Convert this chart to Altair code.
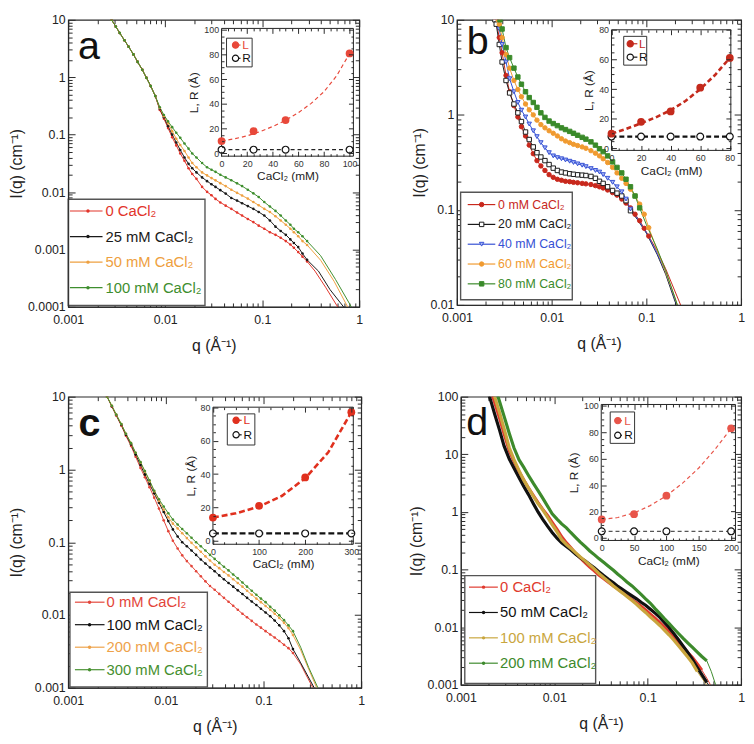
import math
import altair as alt
import pandas as pd

FONT = "Liberation Sans"

# ------------------------------------------------------------------ data
# panel a  (q in 1/A, I in 1/cm)
A_Q_LO = [0.0028, 0.0031, 0.0034, 0.0038, 0.0042, 0.0047, 0.0052, 0.0058, 0.0064, 0.0071, 0.0079]
A_I_LO = [10, 7.6, 5.9, 4.4, 3.4, 2.5, 1.85, 1.35, 0.98, 0.7, 0.47]
A_Q = [0.0088, 0.0097, 0.0107, 0.0118, 0.013, 0.0143, 0.0158, 0.0174, 0.019, 0.021, 0.024, 0.027,
       0.030, 0.033, 0.037, 0.042, 0.048, 0.055, 0.062, 0.071, 0.081, 0.092, 0.105, 0.12, 0.137,
       0.155, 0.175, 0.195, 0.212, 0.235, 0.26, 0.29]
A_I_0 = [0.27, 0.19, 0.13, 0.09, 0.065, 0.047, 0.035, 0.026, 0.0206, 0.017, 0.0123, 0.0101, 0.0088,
         0.0076, 0.0066, 0.0058, 0.0051, 0.0044, 0.0039, 0.0034, 0.003, 0.0026, 0.0023, 0.002, 0.0018,
         0.0016, 0.0014, 0.00122, 0.00107, 0.0009, 0.00075, 0.00062]
A_I_25 = [0.28, 0.2, 0.14, 0.1, 0.073, 0.054, 0.04, 0.031, 0.026, 0.022, 0.018, 0.0155, 0.0137,
          0.0123, 0.0108, 0.0094, 0.0079, 0.0071, 0.0064, 0.0057, 0.0051, 0.0045, 0.0039, 0.0032,
          0.0025, 0.0021, 0.0018, 0.0015, 0.0013, 0.0011, 0.00085, 0.00066]
A_I_50 = [0.29, 0.21, 0.16, 0.115, 0.085, 0.066, 0.052, 0.04, 0.032, 0.027, 0.022, 0.0195, 0.0175,
          0.016, 0.0143, 0.0127, 0.011, 0.0097, 0.0087, 0.0077, 0.0067, 0.0059, 0.0051, 0.0045,
          0.0038, 0.0032, 0.0027, 0.0023, 0.002, 0.0017, 0.0014, 0.0012]
A_I_100 = [0.3, 0.22, 0.17, 0.135, 0.108, 0.088, 0.07, 0.057, 0.047, 0.04, 0.032, 0.027, 0.0245,
           0.0225, 0.02, 0.018, 0.0161, 0.0142, 0.0127, 0.011, 0.0095, 0.0082, 0.0067, 0.0056,
           0.0047, 0.0039, 0.0032, 0.0027, 0.0023, 0.002, 0.0017, 0.0014]
A_TQ = {"0": [0.35, 0.45, 0.6], "25": [0.38, 0.5, 0.69], "50": [0.4, 0.55, 0.76], "100": [0.4, 0.57, 0.83]}
A_TI = {"0": [0.00042, 0.00022, 0.0001], "25": [0.00042, 0.0002, 0.0001],
        "50": [0.00065, 0.00028, 0.0001], "100": [0.00078, 0.0003, 0.0001]}
A_CONC = [0, 25, 50, 100]
A_L = [10, 18, 27, 81]
A_R = [3, 3, 3, 3]
A_FIT_C = [0, 10, 20, 30, 40, 50, 60, 70, 80, 90, 100]
A_FIT_L = [10, 11.8, 14.2, 17.6, 21.8, 26.8, 33, 40.5, 50, 63, 81]

# panel b
B_Q = [0.0026, 0.0028, 0.003, 0.0033, 0.0036, 0.004, 0.0044, 0.0048, 0.0053, 0.0058,
       0.0064, 0.007, 0.0077, 0.0085, 0.0094, 0.0104, 0.0115, 0.0127, 0.014, 0.0155,
       0.017, 0.0188, 0.021, 0.023, 0.026, 0.029, 0.032, 0.035, 0.039, 0.044,
       0.049, 0.055, 0.061, 0.068, 0.076, 0.085, 0.095, 0.106]
B_TOP_Q = {"0": 0.00258, "20": 0.00252, "40": 0.00265, "60": 0.00272, "80": 0.00285}
B_START = {"0": 1, "20": 0, "40": 1, "60": 1, "80": 2}
B_I_0 = [6.5, 4.5, 2.6, 1.75, 1.25, 0.95, 0.75, 0.6, 0.48, 0.39, 0.33, 0.29, 0.26, 0.235, 0.22,
         0.21, 0.205, 0.2, 0.198, 0.195, 0.193, 0.19, 0.188, 0.185, 0.18, 0.175, 0.17, 0.162, 0.152,
         0.143, 0.13, 0.118, 0.105, 0.09, 0.077, 0.064, 0.053]
B_I_20 = [9, 5.5, 3.6, 2.3, 1.7, 1.3, 1.05, 0.85, 0.66, 0.55, 0.46, 0.4, 0.36, 0.33, 0.3, 0.275,
          0.26, 0.25, 0.245, 0.24, 0.237, 0.234, 0.232, 0.23, 0.225, 0.215, 0.2, 0.19, 0.175, 0.16,
          0.15, 0.14, 0.125, 0.098]
B_I_40 = [8, 5.5, 3.6, 2.4, 1.75, 1.35, 1.12, 0.95, 0.8, 0.68, 0.59, 0.51, 0.45, 0.4, 0.37,
          0.355, 0.345, 0.335, 0.325, 0.315, 0.305, 0.295, 0.285, 0.272, 0.26, 0.25, 0.235, 0.215,
          0.195, 0.175, 0.155, 0.13, 0.102]
B_I_60 = [9, 6.5, 4.3, 3.1, 2.3, 1.85, 1.55, 1.3, 1.13, 1.0, 0.88, 0.79, 0.73, 0.68, 0.64, 0.6,
          0.56, 0.53, 0.51, 0.49, 0.475, 0.46, 0.445, 0.42, 0.395, 0.37, 0.345, 0.315, 0.28, 0.245,
          0.215, 0.19, 0.165, 0.14, 0.115, 0.09, 0.065]
B_I_80 = [8, 5.1, 4.0, 3.1, 2.5, 2.1, 1.75, 1.52, 1.35, 1.2, 1.05, 0.94, 0.86, 0.81, 0.77,
          0.73, 0.7, 0.67, 0.64, 0.61, 0.58, 0.555, 0.52, 0.48, 0.44, 0.41, 0.37, 0.32, 0.28, 0.245,
          0.21, 0.175, 0.14, 0.105]
B_TQ = {"0": [0.13, 0.16, 0.2, 0.235], "20": [0.08, 0.1, 0.13, 0.16, 0.2, 0.215],
        "40": [0.08, 0.1, 0.13, 0.16, 0.2, 0.22], "60": [0.13, 0.16, 0.2, 0.22],
        "80": [0.1, 0.13, 0.16, 0.2, 0.22]}
B_TI = {"0": [0.037, 0.024, 0.014, 0.0095], "20": [0.08, 0.057, 0.034, 0.021, 0.011, 0.0093],
        "40": [0.082, 0.058, 0.035, 0.022, 0.0115, 0.0088], "60": [0.038, 0.022, 0.012, 0.009],
        "80": [0.07, 0.039, 0.023, 0.012, 0.009]}
B_CONC = [0, 20, 40, 60, 80]
B_L = [10, 18, 25, 41, 61]
B_R = [8, 8, 8, 8, 8]
B_FIT_C = [0, 10, 20, 30, 40, 50, 60, 70, 80]
B_FIT_L = [10, 13.2, 17, 21, 25.8, 32, 40, 49.5, 61]

# panel c
C_Q = [0.0025, 0.0028, 0.0031, 0.0035, 0.0039, 0.0044, 0.0049, 0.0055, 0.0061, 0.0068,
       0.0076, 0.0085, 0.0095, 0.0106, 0.0118, 0.0132, 0.0147, 0.0164, 0.0183, 0.0204,
       0.0228, 0.0254, 0.0283, 0.0316, 0.0352, 0.0393, 0.0438, 0.0489, 0.0545, 0.0608,
       0.0678, 0.0757, 0.0844, 0.094, 0.105, 0.117, 0.13, 0.145, 0.162, 0.18, 0.2]
C_I_0 = [10, 7.3, 5.5, 4.0, 2.9, 2.1, 1.5, 1.05, 0.78, 0.57, 0.41, 0.29, 0.2, 0.142, 0.105, 0.082,
         0.066, 0.055, 0.047, 0.04, 0.034, 0.029, 0.025, 0.0222, 0.0195, 0.0172, 0.0152, 0.0134,
         0.0118, 0.0104, 0.0093, 0.0083, 0.0074, 0.0067, 0.006, 0.0054, 0.0049, 0.0044, 0.0039,
         0.0035, 0.003]
C_I_100 = [10, 7.4, 5.6, 4.1, 3.0, 2.2, 1.6, 1.15, 0.85, 0.63, 0.47, 0.35, 0.26, 0.195, 0.15, 0.12,
           0.1, 0.088, 0.077, 0.067, 0.058, 0.051, 0.045, 0.04, 0.035, 0.031, 0.0275, 0.0245,
           0.0218, 0.0194, 0.0172, 0.0153, 0.0137, 0.0122, 0.0108, 0.0096, 0.0084, 0.0072, 0.006,
           0.0048, 0.0034]
C_I_200 = [10, 7.5, 5.7, 4.2, 3.1, 2.3, 1.7, 1.25, 0.93, 0.69, 0.5, 0.37, 0.28, 0.22, 0.18, 0.155,
           0.133, 0.114, 0.098, 0.085, 0.074, 0.064, 0.056, 0.049, 0.044, 0.039, 0.035, 0.031,
           0.0275, 0.0245, 0.0215, 0.019, 0.0168, 0.015, 0.0133, 0.0118, 0.0104, 0.0091, 0.0078,
           0.0066, 0.0053]
C_I_300 = [10, 7.5, 5.7, 4.2, 3.1, 2.3, 1.7, 1.26, 0.95, 0.71, 0.51, 0.39, 0.31, 0.25, 0.205, 0.175,
           0.152, 0.133, 0.115, 0.1, 0.088, 0.077, 0.067, 0.059, 0.052, 0.046, 0.041, 0.036, 0.032,
           0.028, 0.0245, 0.0215, 0.019, 0.0168, 0.015, 0.013, 0.0115, 0.0099, 0.0085, 0.0072, 0.006]
C_TQ = {"0": [0.24, 0.28, 0.32], "100": [0.24, 0.28, 0.33], "200": [0.24, 0.29, 0.35], "300": [0.24, 0.29, 0.36]}
C_TI = {"0": [0.0021, 0.0014, 0.001], "100": [0.0022, 0.0015, 0.001],
        "200": [0.0033, 0.0018, 0.001], "300": [0.0036, 0.0019, 0.001]}
C_CONC = [0, 100, 200, 300]
C_L = [14, 21, 38, 77]
C_R = [4.5, 4.5, 4.5, 4.5]
C_FIT_C = [0, 50, 100, 150, 200, 250, 300]
C_FIT_L = [14, 16.5, 20.5, 27, 37.5, 53, 77]

# panel d
D_Q = [0.0019, 0.0021, 0.0023, 0.0026, 0.0029, 0.0033, 0.0037, 0.0042, 0.0047, 0.0053,
       0.006, 0.0067, 0.0075, 0.0085, 0.0095, 0.0107, 0.012, 0.0135, 0.015, 0.017,
       0.019, 0.0215, 0.024, 0.027, 0.03, 0.034, 0.038, 0.043, 0.048, 0.054,
       0.06, 0.068, 0.076, 0.085, 0.095, 0.107, 0.12, 0.135, 0.15, 0.17,
       0.19, 0.215, 0.24, 0.27, 0.3, 0.34, 0.38, 0.43]
D_I_0 = [220, 125, 80, 42, 23, 11.5, 7.6, 5.0, 3.6, 2.6, 1.9, 1.45, 1.12, 0.86, 0.66, 0.5, 0.37,
         0.29, 0.24, 0.19, 0.16, 0.13, 0.11, 0.094, 0.08, 0.069, 0.06, 0.052, 0.046, 0.04, 0.035,
         0.03, 0.0265, 0.023, 0.0198, 0.0168, 0.0143, 0.012, 0.0101, 0.0083, 0.0069, 0.0055,
         0.0045, 0.0036, 0.003, 0.0023, 0.0018]
D_I_50 = [140, 83, 50, 26, 14, 8.3, 5.8, 3.9, 2.8, 2.0, 1.38, 1.0, 0.75, 0.56, 0.44, 0.35, 0.29,
          0.25, 0.22, 0.185, 0.16, 0.14, 0.122, 0.106, 0.092, 0.078, 0.068, 0.059, 0.051, 0.045,
          0.04, 0.035, 0.031, 0.027, 0.024, 0.0205, 0.0175, 0.0148, 0.0122, 0.0098, 0.0078, 0.006,
          0.0047, 0.0036, 0.0028, 0.002, 0.0015, 0.0011]
D_I_100 = [400, 200, 100, 52, 28, 13, 8.2, 5.2, 3.6, 2.6, 1.85, 1.4, 1.1, 0.8, 0.6, 0.45, 0.33,
           0.27, 0.235, 0.195, 0.165, 0.14, 0.12, 0.102, 0.086, 0.072, 0.062, 0.052, 0.045, 0.039,
           0.034, 0.029, 0.025, 0.021, 0.018, 0.015, 0.0127, 0.0107, 0.009, 0.0073, 0.006, 0.0047,
           0.0038, 0.003, 0.0024, 0.0017]
D_I_200 = [400, 250, 155, 82, 46, 23, 13, 8.0, 6.0, 4.3, 3.1, 2.35, 1.75, 1.25, 0.93, 0.75, 0.62,
           0.53, 0.44, 0.36, 0.3, 0.25, 0.21, 0.18, 0.155, 0.132, 0.114, 0.097, 0.083, 0.071, 0.061,
           0.052, 0.044, 0.037, 0.031, 0.026, 0.021, 0.0172, 0.0142, 0.0115, 0.0095, 0.0077,
           0.0064, 0.0053, 0.0045, 0.0037, 0.0031, 0.0026]
D_TQ = {"0": [0.43, 0.47], "50": [0.47], "100": [0.38, 0.44], "200": [0.48, 0.54]}
D_TI = {"0": [0.0013, 0.001], "50": [0.0009], "100": [0.0013, 0.00095], "200": [0.0017, 0.00095]}
D_CONC = [0, 50, 100, 200]
D_L = [14, 18, 32, 83]
D_R = [5, 5, 5, 5]
D_FIT_C = [0, 25, 50, 75, 100, 125, 150, 175, 200]
D_FIT_L = [14, 15.5, 19, 24.5, 32, 41.5, 53, 67, 83]

# ------------------------------------------------------------------ helpers
MAJOR = "abs(log(datum.value)/LN10 - round(log(datum.value)/LN10)) < 0.001"
ONE = pd.DataFrame({"k": [0]})
INK = "#2a2a2a"


def log_ticks(lo, hi, minor=True):
    out = []
    e = int(math.floor(math.log10(lo) + 1e-9))
    while 10.0 ** e <= hi * 1.0001:
        for k in (range(1, 10) if minor else [1]):
            v = float("%.6g" % (k * 10.0 ** e))
            if lo * 0.9999 <= v <= hi * 1.0001:
                out.append(v)
        e += 1
    return out


def label_axis(dom, title, orient, min_ext=0):
    return alt.Axis(
        orient=orient, values=log_ticks(dom[0], dom[1], minor=False), format="~g",
        ticks=False, labelOverlap=False, labelFlush=False, grid=False, zindex=1,
        domainColor=INK, labelColor="#222", titleColor="#222",
        labelFont=FONT, labelFontSize=12.5, labelPadding=7 if orient == "bottom" else 3,
        minExtent=min_ext,
        title=title, titleFont=FONT, titleFontSize=16, titleFontWeight="normal",
        titlePadding=12 if orient == "bottom" else 3)


def tick_axis(values, orient, offset, test, big, small, z):
    return alt.Axis(orient=orient, offset=offset, values=values, labels=False, domain=False,
                    title=None, grid=False, zindex=z, tickColor=INK, tickWidth=1,
                    tickSize={"condition": {"test": test, "value": big}, "value": small})


def build_df(series):
    rows = []
    for key, qs, Is in series:
        for q, v in zip(qs, Is):
            rows.append({"s": key, "q": q, "I": v})
    return pd.DataFrame(rows)


def panel(cfg):
    W, H = cfg["W"], cfg["H"]
    keys, cols = cfg["labels"], cfg["colors"]
    xdom, ydom = cfg["xdom"], cfg["ydom"]
    XS = alt.Scale(type="log", domain=xdom, nice=False)
    YS = alt.Scale(type="log", domain=ydom, nice=False)
    X = alt.X("q:Q", scale=XS, axis=label_axis(xdom, "q  (Å⁻¹)", "bottom"))
    Y = alt.Y("I:Q", scale=YS, axis=label_axis(ydom, "I(q)  (cm⁻¹)", "left", cfg.get("ymin_ext", 0)))
    cs = alt.Scale(domain=keys, range=cols)
    C = alt.Color("s:N", scale=cs, legend=None)

    pts_df = build_df(cfg["data"])
    fit_df = build_df(cfg["fits"])
    fits = alt.Chart(fit_df).mark_line(strokeWidth=1, clip=True).encode(X, Y, C)
    style = cfg["style"]
    if style == "dots":
        pts = alt.Chart(pts_df).mark_circle(size=7, opacity=1, clip=True).encode(X, Y, C)
    elif style == "thick":
        pts = alt.Chart(pts_df).mark_line(strokeWidth=3.2, clip=True).encode(X, Y, C)
    else:
        pts = alt.Chart(pts_df).mark_point(filled=True, size=20, strokeWidth=1, opacity=1, clip=True).encode(
            X, Y,
            shape=alt.Shape("s:N", scale=alt.Scale(domain=keys, range=cfg["shapes"]), legend=None),
            fill=alt.Fill("s:N", scale=alt.Scale(domain=keys, range=cfg["fills"]), legend=None),
            stroke=alt.Stroke("s:N", scale=cs, legend=None))
    main = alt.layer(fits, pts)

    # inward ticks on all four sides of the main frame
    inside = "datum.I >= %g && datum.I <= %g" % (ydom[0], ydom[1])
    xv, yv = log_ticks(*xdom), log_ticks(*ydom)
    carrier = alt.Chart(pts_df).transform_filter(inside).mark_point(opacity=0)
    mt1 = carrier.encode(
        x=alt.X("q:Q", scale=XS, axis=tick_axis(xv, "top", -H, MAJOR, 7, 4, 0)),
        y=alt.Y("I:Q", scale=YS, axis=tick_axis(yv, "right", -W, MAJOR, 7, 4, 0)))
    mt2 = carrier.encode(
        x=alt.X("q:Q", scale=XS, axis=tick_axis(xv, "bottom", -H, MAJOR, 7, 4, 0)),
        y=alt.Y("I:Q", scale=YS, axis=tick_axis(yv, "left", -W, MAJOR, 7, 4, 0)))

    # ---- main legend
    lg = cfg["leg"]
    n = len(keys)
    ldf = pd.DataFrame({"row": list(range(n)), "s": keys, "label": keys})
    LY = alt.Y("row:Q", scale=alt.Scale(domain=[0, n - 1], range=[lg["rows"][0] * H, lg["rows"][1] * H],
                                        nice=False, zero=False), axis=None)
    legbox = alt.Chart(ONE).mark_rect(fill="white", stroke="#555", strokeWidth=1.4).encode(
        x=alt.value(lg["box"][0] * W), x2=alt.value(lg["box"][1] * W),
        y=alt.value(lg["box"][2] * H), y2=alt.value(lg["box"][3] * H))
    lrule = alt.Chart(ldf).mark_rule(strokeWidth=1.2).encode(
        x=alt.value(lg["line"][0] * W), x2=alt.value(lg["line"][1] * W), y=LY, color=C)
    if style == "markers":
        lmark = alt.Chart(ldf).mark_point(filled=True, size=20, strokeWidth=1, opacity=1).encode(
            x=alt.value(lg["mark"] * W), y=LY,
            shape=alt.Shape("s:N", scale=alt.Scale(domain=keys, range=cfg["shapes"]), legend=None),
            fill=alt.Fill("s:N", scale=alt.Scale(domain=keys, range=cfg["fills"]), legend=None),
            stroke=alt.Stroke("s:N", scale=cs, legend=None))
    else:
        lmark = alt.Chart(ldf).mark_circle(size=12, opacity=1).encode(x=alt.value(lg["mark"] * W), y=LY, color=C)
    ltext = alt.Chart(ldf).mark_text(align="left", baseline="middle", font=FONT, fontSize=lg["fs"]).encode(
        x=alt.value(lg["text"] * W), y=LY, text="label:N", color=C)
    legend = alt.layer(lrule, lmark, ltext)

    # ---- inset
    ins = cfg["inset"]
    px0, px1 = ins["frame"][0] * W, ins["frame"][1] * W
    py0, py1 = ins["frame"][2] * H, ins["frame"][3] * H
    IXS = alt.Scale(domain=ins["xdom"], range=[px0, px1], nice=False, zero=False)
    IYS = alt.Scale(domain=ins["ydom"], range=[py1, py0], nice=False, zero=False)
    common = dict(format="d", grid=False, zindex=1, domain=False, ticks=False, labelFlush=False,
                  labelOverlap=False, labelFont=FONT, labelFontSize=9, labelColor="#333", labelPadding=3,
                  titleFont=FONT, titleFontSize=12, titleFontWeight="normal", titleColor="#222", titlePadding=3)
    ixa = alt.Axis(orient="bottom", offset=py1 - H, values=ins["xt"], title="CaCl₂ (mM)", **common)
    iya = alt.Axis(orient="left", offset=-px0, values=ins["yt"], title="L, R (Å)", **common)
    IX = alt.X("c:Q", scale=IXS, axis=ixa)
    IY = alt.Y("v:Q", scale=IYS, axis=iya)
    iframe = alt.Chart(ONE).mark_rect(fill="white", stroke="#222", strokeWidth=1).encode(
        x=alt.value(px0), x2=alt.value(px1), y=alt.value(py0), y2=alt.value(py1))
    lc = ins["lcolor"]
    Ldf = pd.DataFrame({"c": ins["conc"], "v": ins["L"]})
    Rdf = pd.DataFrame({"c": ins["conc"], "v": ins["R"]})
    Lfit = pd.DataFrame({"c": ins["fit_c"], "v": ins["fit_L"]})
    Rfit = pd.DataFrame({"c": [ins["conc"][0], ins["conc"][-1]], "v": [ins["R"][0], ins["R"][-1]]})
    inset = alt.layer(
        alt.Chart(Rfit).mark_line(color=ins["rcolor"], strokeDash=ins["dash"], strokeWidth=ins["rw"]).encode(IX, IY),
        alt.Chart(Lfit).mark_line(color=lc, strokeDash=ins["dash"], strokeWidth=ins["lw"]).encode(IX, IY),
        alt.Chart(Rdf).mark_point(shape="circle", filled=True, fill="white", stroke="#111", strokeWidth=1.2,
                                  size=48, opacity=1).encode(IX, IY),
        alt.Chart(Ldf).mark_circle(color=lc, size=62, opacity=1).encode(IX, IY),
    )
    xmaj, xmin_ = ins["xstep"]
    ymaj, ymin_ = ins["ystep"]
    ixv = [float("%.6g" % (ins["xt"][0] + i * xmin_)) for i in range(int(round((ins["xt"][-1] - ins["xt"][0]) / xmin_)) + 1)]
    iyv = [float("%.6g" % (ins["yt"][0] + i * ymin_)) for i in range(int(round((ins["yt"][-1] - ins["yt"][0]) / ymin_)) + 1)]
    tx = "abs(datum.value/%g - round(datum.value/%g)) < 0.001" % (xmaj, xmaj)
    ty = "abs(datum.value/%g - round(datum.value/%g)) < 0.001" % (ymaj, ymaj)
    icar = alt.Chart(Ldf).mark_point(opacity=0)
    it1 = icar.encode(
        x=alt.X("c:Q", scale=IXS, axis=tick_axis(ixv, "top", -py1, tx, 5, 2.5, 1)),
        y=alt.Y("v:Q", scale=IYS, axis=tick_axis(iyv, "right", px0 - W, ty, 5, 2.5, 1)))
    it2 = icar.encode(
        x=alt.X("c:Q", scale=IXS, axis=tick_axis(ixv, "bottom", py0 - H, tx, 5, 2.5, 1)),
        y=alt.Y("v:Q", scale=IYS, axis=tick_axis(iyv, "left", -px1, ty, 5, 2.5, 1)))

    # ---- inset legend
    il = ins["leg"]
    idf = pd.DataFrame({"row": [0, 1], "s": ["L", "R"]})
    IYL = alt.Y("row:Q", scale=alt.Scale(domain=[0, 1], range=[il["rows"][0] * H, il["rows"][1] * H],
                                         nice=False, zero=False), axis=None)
    icol = alt.Scale(domain=["L", "R"], range=[lc, "#111"])
    ifill = alt.Scale(domain=["L", "R"], range=[lc, "white"])
    ibox = alt.Chart(ONE).mark_rect(fill="white", stroke="#333", strokeWidth=1).encode(
        x=alt.value(il["box"][0] * W), x2=alt.value(il["box"][1] * W),
        y=alt.value(il["box"][2] * H), y2=alt.value(il["box"][3] * H))
    ileg = alt.layer(
        alt.Chart(idf).mark_rule(strokeWidth=1.2).encode(
            x=alt.value(il["mark"] * W), x2=alt.value(il["line"] * W), y=IYL,
            color=alt.Color("s:N", scale=icol, legend=None)),
        alt.Chart(idf).mark_point(shape="circle", filled=True, size=40, strokeWidth=1.2, opacity=1).encode(
            x=alt.value(il["mark"] * W), y=IYL,
            fill=alt.Fill("s:N", scale=ifill, legend=None),
            stroke=alt.Stroke("s:N", scale=icol, legend=None)),
        alt.Chart(idf).mark_text(align="left", baseline="middle", font=FONT, fontSize=12).encode(
            x=alt.value(il["text"] * W), y=IYL, text="s:N", color=alt.Color("s:N", scale=icol, legend=None)),
    )

    letter = alt.Chart(ONE).mark_text(text=cfg["letter"], font=FONT, fontSize=40, align="center",
                                      baseline="middle", color="#111",
                                      fontWeight=cfg.get("lw", "normal")).encode(
        x=alt.value(cfg["lpos"][0] * W), y=alt.value(cfg["lpos"][1] * H))

    return alt.layer(main, mt1, mt2, legbox, legend, iframe, inset, it1, it2, ibox, ileg, letter).resolve_scale(
        x="independent", y="independent", color="independent", fill="independent",
        stroke="independent", shape="independent").properties(width=W, height=H)


# ------------------------------------------------------------------ panels
A_LAB = ["0 CaCl₂", "25 mM CaCl₂", "50 mM CaCl₂", "100 mM CaCl₂"]
A_SER = [A_I_0, A_I_25, A_I_50, A_I_100]
A_KEY = ["0", "25", "50", "100"]
cfg_a = dict(
    W=295, H=291, letter="a", lpos=(0.071, 0.097), style="dots",
    xdom=[0.001, 1], ydom=[0.0001, 10], labels=A_LAB,
    colors=["#e2342a", "#1a1a1a", "#eea040", "#3e8e2e"],
    data=[(l, A_Q_LO + A_Q, A_I_LO + s) for l, s in zip(A_LAB, A_SER)],
    fits=[(l, A_Q_LO + A_Q + A_TQ[k], A_I_LO + s + A_TI[k]) for l, s, k in zip(A_LAB, A_SER, A_KEY)],
    leg=dict(box=(0.0, 0.47, 0.625, 0.995), rows=(0.666, 0.933), line=(0.006, 0.118), mark=0.068,
             text=0.128, fs=15),
    inset=dict(frame=(0.527, 0.980, 0.030, 0.475), xdom=[0, 103], ydom=[-2.3, 101.3],
               xt=[0, 20, 40, 60, 80, 100], yt=[0, 20, 40, 60, 80, 100], xstep=(20, 5), ystep=(20, 5),
               conc=A_CONC, L=A_L, R=A_R, fit_c=A_FIT_C, fit_L=A_FIT_L,
               lcolor="#e8483a", rcolor="#222", dash=[4, 3], lw=1.2, rw=1.2,
               leg=dict(box=(0.544, 0.632, 0.064, 0.164), rows=(0.088, 0.134), mark=0.575, line=0.592,
                        text=0.598)),
)

B_LAB = ["0 mM CaCl₂", "20 mM CaCl₂", "40 mM CaCl₂", "60 mM CaCl₂", "80 mM CaCl₂"]
B_SER = [B_I_0, B_I_20, B_I_40, B_I_60, B_I_80]
B_KEY = ["0", "20", "40", "60", "80"]


def b_q(k, s):
    start = B_START[k]
    return [B_TOP_Q[k]] + B_Q[start:start + len(s)]


cfg_b = dict(
    W=288, H=289, letter="b", lpos=(0.073, 0.08), style="markers",
    xdom=[0.001, 1], ydom=[0.01, 10], labels=B_LAB,
    colors=["#c8281c", "#1a1a1a", "#3550d4", "#f09a30", "#3a8a2a"],
    shapes=["circle", "square", "triangle-down", "circle", "square"],
    fills=["#c8281c", "white", "#aab8f4", "#f09a30", "#3a8a2a"],
    data=[(l, b_q(k, s), [10] + s) for l, s, k in zip(B_LAB, B_SER, B_KEY)],
    fits=[(l, b_q(k, s) + B_TQ[k], [10] + s + B_TI[k]) for l, s, k in zip(B_LAB, B_SER, B_KEY)],
    leg=dict(box=(0.013, 0.406, 0.605, 0.982), rows=(0.648, 0.926), line=(0.038, 0.135), mark=0.087,
             text=0.145, fs=12.5),
    inset=dict(frame=(0.544, 0.964, 0.035, 0.458), xdom=[0, 80.7], ydom=[-1.3, 80],
               xt=[0, 20, 40, 60, 80], yt=[0, 20, 40, 60, 80], xstep=(20, 5), ystep=(20, 5),
               conc=B_CONC, L=B_L, R=B_R, fit_c=B_FIT_C, fit_L=B_FIT_L,
               lcolor="#c42a1c", rcolor="#111", dash=[5, 3], lw=2.6, rw=2.2,
               leg=dict(box=(0.587, 0.668, 0.058, 0.159), rows=(0.084, 0.131), mark=0.61, line=0.635,
                        text=0.641)),
)

C_LAB = ["0 mM CaCl₂", "100 mM CaCl₂", "200 mM CaCl₂", "300 mM CaCl₂"]
C_SER = [C_I_0, C_I_100, C_I_200, C_I_300]
C_KEY = ["0", "100", "200", "300"]
cfg_c = dict(
    W=297, H=295, letter="c", lpos=(0.073, 0.096), lw="bold", style="dots", ymin_ext=41,
    xdom=[0.001, 1], ydom=[0.001, 10], labels=C_LAB,
    colors=["#e3453a", "#111111", "#eea24a", "#46902f"],
    data=[(l, C_Q, s) for l, s in zip(C_LAB, C_SER)],
    fits=[(l, C_Q + C_TQ[k], s + C_TI[k]) for l, s, k in zip(C_LAB, C_SER, C_KEY)],
    leg=dict(box=(0.006, 0.475, 0.672, 0.997), rows=(0.706, 0.938), line=(0.023, 0.124), mark=0.073,
             text=0.131, fs=15),
    inset=dict(frame=(0.494, 0.973, 0.036, 0.507), xdom=[0, 304.3], ydom=[-2, 80],
               xt=[0, 100, 200, 300], yt=[0, 20, 40, 60, 80], xstep=(100, 25), ystep=(20, 5),
               conc=C_CONC, L=C_L, R=C_R, fit_c=C_FIT_C, fit_L=C_FIT_L,
               lcolor="#e0301e", rcolor="#111", dash=[6, 3], lw=2.6, rw=2.2,
               leg=dict(box=(0.543, 0.637, 0.059, 0.166), rows=(0.081, 0.131), mark=0.573, line=0.592,
                        text=0.598)),
)

D_LAB = ["0 CaCl₂", "50 mM CaCl₂", "100 mM CaCl₂", "200 mM CaCl₂"]
D_SER = [D_I_0, D_I_50, D_I_100, D_I_200]
D_KEY = ["0", "50", "100", "200"]
cfg_d = dict(
    W=284, H=292, letter="d", lpos=(0.058, 0.093), style="thick",
    xdom=[0.001, 1], ydom=[0.001, 100], labels=D_LAB,
    colors=["#e03a2e", "#111111", "#c9a63e", "#3d8a2c"],
    data=[(l, D_Q[:len(s)], s) for l, s in zip(D_LAB, D_SER)],
    fits=[(l, D_Q[:len(s)] + D_TQ[k], s + D_TI[k]) for l, s, k in zip(D_LAB, D_SER, D_KEY)],
    leg=dict(box=(0.014, 0.481, 0.621, 0.995), rows=(0.661, 0.925), line=(0.029, 0.132), mark=0.081,
             text=0.14, fs=15),
    inset=dict(frame=(0.501, 0.98, 0.027, 0.499), xdom=[-0.7, 206.7], ydom=[-1.9, 101.1],
               xt=[0, 50, 100, 150, 200], yt=[0, 20, 40, 60, 80, 100], xstep=(50, 10), ystep=(20, 5),
               conc=D_CONC, L=D_L, R=D_R, fit_c=D_FIT_C, fit_L=D_FIT_L,
               lcolor="#e8554a", rcolor="#555", dash=[4, 3], lw=1.2, rw=1.2,
               leg=dict(box=(0.533, 0.62, 0.053, 0.162), rows=(0.083, 0.134), mark=0.56, line=0.575,
                        text=0.583)),
)

chart = alt.vconcat(
    alt.hconcat(panel(cfg_a), panel(cfg_b), spacing=47),
    alt.hconcat(panel(cfg_c), panel(cfg_d), spacing=42),
    spacing=35,
).properties(padding=0).configure_view(stroke=INK, strokeWidth=1.2)

chart.save("out.html", embed_options={"renderer": "svg", "actions": False})
